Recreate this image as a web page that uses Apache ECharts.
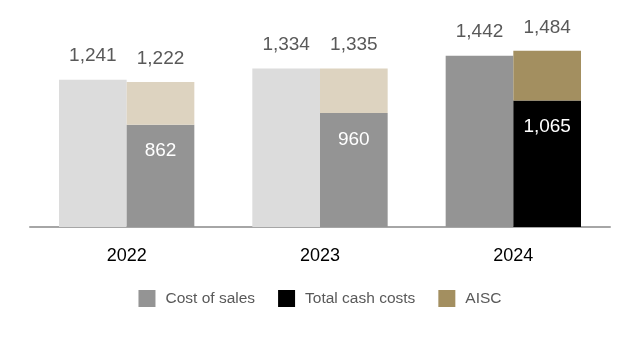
<!DOCTYPE html>
<html><head><meta charset="utf-8">
<script src="https://cdn.jsdelivr.net/npm/echarts@6/dist/echarts.min.js"></script>
<style>html,body{margin:0;padding:0;background:#fff}#c{width:640px;height:344px}</style>
</head><body><div id="c"></div>
<script>
const categories = ['2022', '2023', '2024'];
const costOfSales = [1241, 1334, 1442];
const totalCashCosts = [862, 960, 1065];
const aisc = [1222, 1335, 1484];

const cosColors = ['#dcdcdc', '#dcdcdc', '#949494'];
const tccColors = ['#949494', '#949494', '#000000'];
const aiscColors = ['#ddd3c0', '#ddd3c0', '#a38f60'];

const SANS = '"Liberation Sans", Arial, sans-serif';
const fmt = v => v.toLocaleString('en-US');

const chart = echarts.init(document.getElementById('c'));
chart.setOption({
  animation: false,
  grid: { left: 30, right: 30, top: 37, bottom: 117 },
  legend: {
    bottom: 32, left: 'center', itemWidth: 17, itemHeight: 17, itemGap: 23,
    icon: 'rect',
    textStyle: { fontFamily: SANS, fontSize: 15.5, color: '#595959', padding: [0, 0, 0, 5] },
    data: ['Cost of sales', 'Total cash costs', 'AISC']
  },
  xAxis: {
    type: 'category', data: categories,
    axisLine: { lineStyle: { color: '#a6a6a6', width: 2 } },
    axisTick: { show: false },
    axisLabel: { fontFamily: SANS, fontSize: 18, color: '#000', margin: 20 }
  },
  yAxis: { type: 'value', min: 0, max: 1600, show: false, splitLine: { show: false } },
  series: [
    {
      name: 'Cost of sales', type: 'bar', barGap: '0%', barCategoryGap: '30%',
      itemStyle: { color: '#949494' },
      data: costOfSales.map((v, i) => ({ value: v, itemStyle: { color: cosColors[i] } })),
      label: { show: true, position: 'top', distance: 14, fontFamily: SANS, fontSize: 19, color: '#595959', formatter: p => fmt(p.value) }
    },
    {
      name: 'Total cash costs', type: 'bar', stack: 'b',
      itemStyle: { color: '#000000' },
      data: totalCashCosts.map((v, i) => ({ value: v, itemStyle: { color: tccColors[i] } })),
      label: { show: true, position: 'insideTop', distance: 17, fontFamily: SANS, fontSize: 19, color: '#ffffff', formatter: p => fmt(p.value) }
    },
    {
      name: 'AISC', type: 'bar', stack: 'b',
      itemStyle: { color: '#a38f60' },
      data: aisc.map((v, i) => ({ value: v - totalCashCosts[i], itemStyle: { color: aiscColors[i] } })),
      label: { show: true, position: 'top', distance: 14, fontFamily: SANS, fontSize: 19, color: '#595959', formatter: p => fmt(aisc[p.dataIndex]) }
    }
  ]
});
</script></body></html>
